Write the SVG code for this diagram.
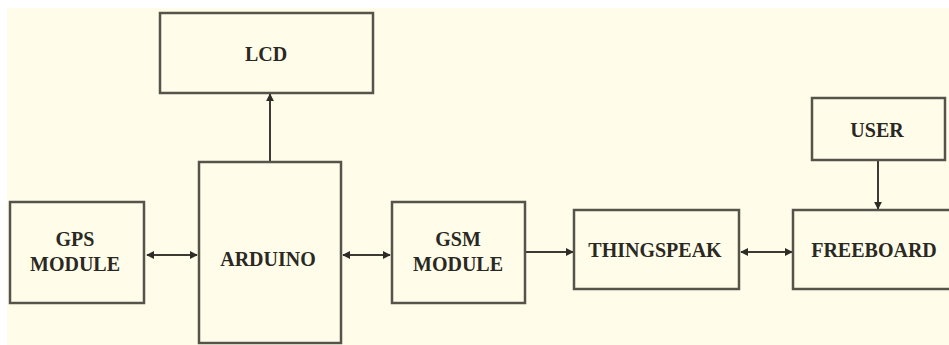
<svg xmlns="http://www.w3.org/2000/svg" width="949" height="345" viewBox="0 0 949 345">
<style>
.box{fill:none;stroke:#56534a;stroke-width:2.5}
.lbl{font-family:"Liberation Serif","Times New Roman",serif;font-weight:bold;font-size:20px;fill:#2a2822;text-anchor:middle}
.con{stroke:#3c3a33;stroke-width:2;fill:none}
</style>
<defs>
<marker id="ah" viewBox="0 0 10 10" refX="9" refY="5" markerWidth="4" markerHeight="4" orient="auto-start-reverse" markerUnits="strokeWidth">
<path d="M0,0 L10,5 L0,10 z" fill="#2e2c26"/>
</marker>
</defs>
<rect x="0" y="0" width="949" height="345" fill="#ffffff"/>
<rect x="7" y="8" width="942" height="337" fill="#fffdea"/>
<g id="connectors">
<line class="con" x1="270" y1="162" x2="270" y2="94" marker-end="url(#ah)"/>
<line class="con" x1="147" y1="255" x2="197" y2="255" marker-start="url(#ah)" marker-end="url(#ah)"/>
<line class="con" x1="343" y1="255" x2="390" y2="255" marker-start="url(#ah)" marker-end="url(#ah)"/>
<line class="con" x1="526" y1="252" x2="573" y2="252" marker-end="url(#ah)"/>
<line class="con" x1="741" y1="252" x2="792" y2="252" marker-start="url(#ah)" marker-end="url(#ah)"/>
<line class="con" x1="878" y1="160" x2="878" y2="209" marker-end="url(#ah)"/>
</g>
<g id="lcd">
<rect class="box" x="160" y="13" width="213" height="80"/>
<text class="lbl" x="266" y="61">LCD</text>
</g>
<g id="arduino">
<rect class="box" x="199" y="162" width="142" height="181"/>
<text class="lbl" x="268" y="266">ARDUINO</text>
</g>
<g id="gps">
<rect class="box" x="10" y="202" width="134" height="101"/>
<text class="lbl" x="75" y="246">GPS</text>
<text class="lbl" x="75" y="271">MODULE</text>
</g>
<g id="gsm">
<rect class="box" x="392" y="202" width="133" height="101"/>
<text class="lbl" x="458" y="246">GSM</text>
<text class="lbl" x="458" y="271">MODULE</text>
</g>
<g id="thingspeak">
<rect class="box" x="574" y="210" width="165" height="79"/>
<text class="lbl" x="655" y="257">THINGSPEAK</text>
</g>
<g id="freeboard">
<rect class="box" x="793" y="210" width="170" height="79"/>
<text class="lbl" x="874" y="257">FREEBOARD</text>
</g>
<g id="user">
<rect class="box" x="812" y="98" width="133" height="62"/>
<text class="lbl" x="877" y="137">USER</text>
</g>
</svg>
